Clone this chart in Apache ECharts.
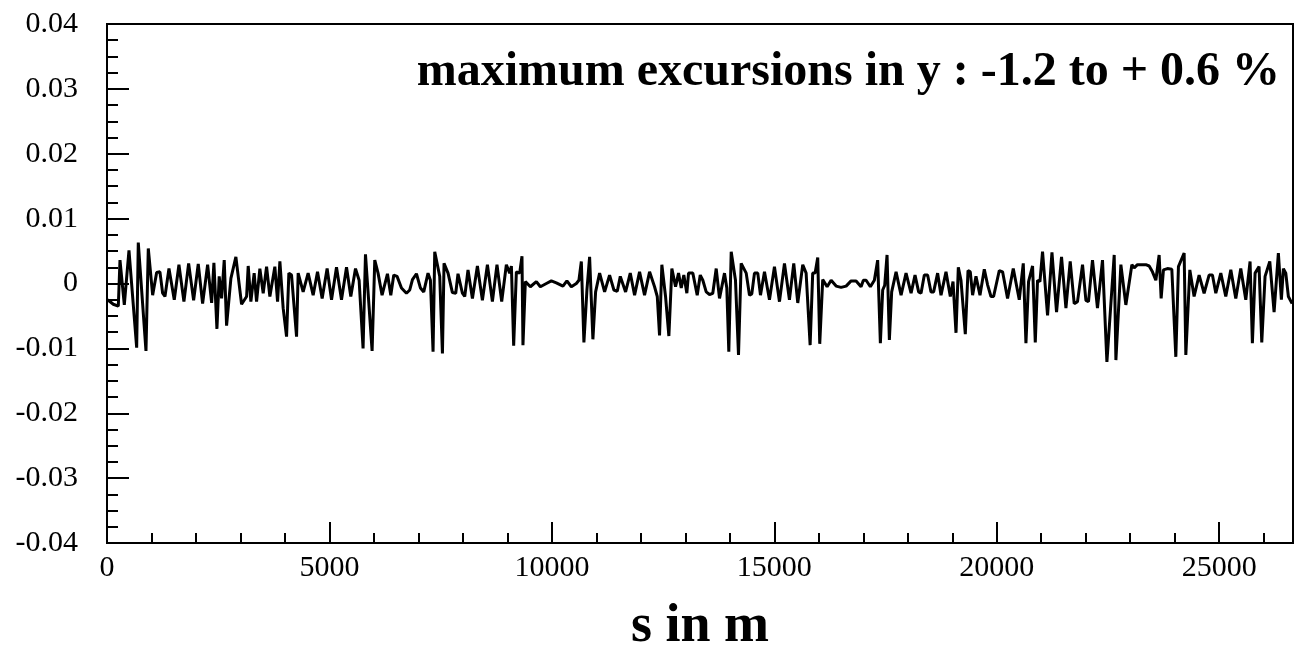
<!DOCTYPE html>
<html>
<head>
<meta charset="utf-8">
<script src="https://cdn.jsdelivr.net/npm/echarts@6/dist/echarts.min.js"></script>
<style>
html,body{margin:0;padding:0;background:#fff;}
#chart{width:1298px;height:656px;}
</style>
</head>
<body>
<div id="chart"></div>
<script>
// Data (s in m, excursion in y)
const sA = [16,141,254,292,389,494,667,703,876,928,1026,1116,1190,1251,1303,1393,1512,1617,1729,1835,1947,2051,2149,2262,2352,2403,2471,2522,2576,2635,2688,2785,2897,3025,3138,3174,3234,3308,3362,3436,3511,3587,3661,3773,3834,3886,3960,4036,4088,4148,4261,4297,4409,4521,4634,4732,4836,4948,5047,5159,5271,5384,5480,5586,5667,5756,5810,5959,6019,6093,6183,6304,6379];
const yA = [-0.0025,-0.0032,-0.0035,0.0036,-0.0033,0.0051,-0.0099,0.0063,-0.0104,0.0054,-0.0018,0.0017,0.0018,-0.0015,-0.0020,0.0023,-0.0025,0.0029,-0.0028,0.0031,-0.0026,0.0030,-0.0031,0.0029,-0.0030,0.0032,-0.0070,0.0011,-0.0023,0.0036,-0.0065,0.0008,0.0041,-0.0032,-0.0020,0.0027,-0.0028,0.0016,-0.0028,0.0023,-0.0015,0.0026,-0.0020,0.0026,-0.0028,0.0034,-0.0038,-0.0082,0.0016,0.0013,-0.0082,0.0016,-0.0013,0.0016,-0.0018,0.0018,-0.0023,0.0023,-0.0025,0.0025,-0.0025,0.0025,-0.0020,0.0023,0.0005,-0.0100,0.0045,-0.0104,0.0036,0.0016,-0.0018,0.0015,-0.0018];

const sB = [6446,6520,6619,6731,6805,6866,6956,7046,7120,7216,7270,7329,7367,7479,7540,7576,7666,7764,7839,7890,7989,8041,8115,8214,8326,8438,8551,8663,8766,8872,8977,9051,9090,9141,9202,9276,9328,9350,9404,9516,9651,9741,9876,9988,10100,10249,10338,10437,10550,10608,10662,10720,10788,10848,10922,10983,11073,11185,11297,11394,11470,11538,11657,11762,11859,11971,12083,12196,12308,12369,12420,12472,12555,12630,12697,12780,12847];
const yB = [0.0013,0.0011,-0.0007,-0.0015,-0.0010,0.0006,0.0015,-0.0007,-0.0013,0.0016,0.0005,-0.0105,0.0049,0.0011,-0.0108,0.0031,0.0016,-0.0014,-0.0015,0.0015,-0.0015,-0.0020,0.0021,-0.0023,0.0027,-0.0026,0.0029,-0.0028,0.0029,-0.0028,0.0029,0.0016,0.0027,-0.0096,0.0018,0.0016,0.0042,-0.0095,0.0003,-0.0005,0.0003,-0.0005,0.0000,0.0004,0.0001,-0.0004,0.0004,-0.0005,0.0000,0.0005,0.0034,-0.0091,-0.0010,0.0041,-0.0086,-0.0013,0.0016,-0.0013,0.0013,-0.0010,-0.0012,0.0011,-0.0013,0.0016,-0.0018,0.0018,-0.0018,0.0018,-0.0005,-0.0020,-0.0080,0.0029,-0.0020,-0.0081,0.0023,-0.0005,0.0016];

const sC = [12908,12966,13034,13072,13168,13267,13335,13393,13469,13543,13617,13694,13768,13880,13932,13977,14031,14127,14195,14255,14368,14442,14494,14554,14628,14689,14779,14891,15003,15116,15228,15340,15437,15527,15639,15715,15751,15805,15863,15917,15976,16021,16088,16187,16277,16389,16501,16614,16726,16838,16950,17002,17063,17159,17249,17323,17384,17436,17481,17534,17586,17638,17737,17849,17961,18074,18163,18244,18298,18372,18446,18522,18581,18671,18747,18859,18956,19017];
const yC = [-0.0007,0.0013,-0.0015,0.0016,0.0016,-0.0018,0.0013,0.0005,-0.0013,-0.0017,-0.0015,0.0023,-0.0023,0.0016,-0.0007,-0.0105,0.0049,0.0005,-0.0110,0.0031,0.0016,-0.0018,-0.0016,0.0016,0.0016,-0.0018,0.0018,-0.0025,0.0026,-0.0028,0.0031,-0.0025,0.0031,-0.0030,0.0029,0.0016,0.0018,-0.0095,0.0016,0.0016,0.0040,-0.0093,0.0006,-0.0005,0.0005,-0.0004,-0.0006,-0.0004,0.0004,0.0004,-0.0005,0.0005,0.0005,-0.0005,0.0005,0.0036,-0.0092,-0.0010,-0.0003,0.0044,-0.0087,-0.0013,0.0018,-0.0018,0.0016,-0.0015,0.0013,-0.0013,-0.0015,0.0013,0.0013,-0.0013,-0.0013,0.0016,-0.0018,0.0018,-0.0020,0.0003];

const sD = [19084,19136,19196,19232,19293,19354,19405,19457,19533,19623,19720,19794,19870,19929,20057,20131,20243,20371,20506,20596,20656,20715,20805,20866,20917,20971,21029,21142,21241,21344,21456,21555,21651,21741,21815,21928,22004,22062,22152,22264,22377,22476,22640,22678,22790,22902,23037,23089,23163,23352,23426,23500,23576,23650,23695,23747,23836,23935,24025,24084,24212,24250,24340,24436,24549,24661,24773,24848,24924,25036,25148,25261,25373,25485,25598,25694,25746,25807,25896,25957,26031,26137,26234,26330,26398,26443,26497,26555,26639];
const yD = [-0.0076,0.0025,0.0005,0.0008,-0.0078,0.0020,0.0018,-0.0018,0.0011,-0.0018,0.0022,-0.0002,-0.0020,-0.0020,0.0020,0.0018,-0.0023,0.0023,-0.0025,0.0031,-0.0092,0.0003,0.0027,-0.0091,0.0005,0.0003,0.0049,-0.0049,0.0048,-0.0044,0.0041,-0.0038,0.0034,-0.0031,-0.0028,0.0029,-0.0026,-0.0028,0.0036,-0.0038,0.0036,-0.0121,0.0044,-0.0118,0.0029,-0.0033,0.0029,0.0024,0.0029,0.0029,0.0027,0.0018,0.0005,0.0044,-0.0023,0.0021,0.0023,0.0022,-0.0113,0.0026,0.0047,-0.0110,0.0021,-0.0020,0.0013,-0.0015,0.0013,0.0013,-0.0015,0.0016,-0.0020,0.0021,-0.0023,0.0023,-0.0025,0.0034,-0.0092,0.0016,0.0026,-0.0091,0.0011,0.0034,-0.0044,0.0047,-0.0025,0.0023,0.0016,-0.0020,-0.0031];

const xMin = 0, xMax = 26659, xMajor = 5000, xMinor = 1000;
const yMin = -0.04, yMax = 0.04, yMajor = 0.01;
const titleText = 'maximum excursions in y : -1.2 to + 0.6 %';
const xName = 's in m';

function pairs(s, y) { const n = Math.min(s.length, y.length); const out = []; for (let i = 0; i < n; i++) out.push([s[i], y[i]]); return out; }
const lineData = [].concat(pairs(sA, yA), pairs(sB, yB), pairs(sC, yC), pairs(sD, yD));

const FONT = "'Liberation Serif', 'DejaVu Serif', serif";
const chart = echarts.init(document.getElementById('chart'), null, {renderer: 'canvas'});
chart.setOption({
  animation: false,
  backgroundColor: '#fff',
  title: {
    text: titleText,
    right: 13,
    top: 44,
    textStyle: {fontFamily: FONT, fontWeight: 'bold', fontSize: 48, color: '#000'}
  },
  grid: {left: 107, right: 5, top: 24, bottom: 113, outerBoundsMode: 'none', containLabel: false,
    show: true, borderColor: '#000', borderWidth: 2, backgroundColor: 'transparent'},
  xAxis: [{
    type: 'value', position: 'bottom', min: xMin, max: xMax, interval: xMajor,
    name: xName, nameLocation: 'middle', nameGap: 57,
    nameTextStyle: {fontFamily: FONT, fontWeight: 'bold', fontSize: 54, color: '#000'},
    axisLine: {show: true, onZero: false, lineStyle: {color: '#000', width: 2}},
    axisTick: {show: true, inside: true, length: 21, lineStyle: {color: '#000', width: 2}},
    axisLabel: {show: true, showMaxLabel: false, margin: 10, color: '#000', fontFamily: FONT, fontSize: 30,
      formatter: v => (v % xMajor === 0 ? String(v) : '')},
    splitLine: {show: false}
  }, {
    type: 'value', position: 'bottom', min: xMin, max: xMax, interval: xMinor,
    axisLine: {show: false, onZero: false},
    axisTick: {show: true, inside: true, length: 10, lineStyle: {color: '#000', width: 2}},
    axisLabel: {show: false},
    splitLine: {show: false}
  }],
  yAxis: {
    type: 'value', min: yMin, max: yMax, interval: yMajor,
    axisLine: {show: true, onZero: false, lineStyle: {color: '#000', width: 2}},
    axisTick: {show: true, inside: true, length: 22, lineStyle: {color: '#000', width: 2}},
    minorTick: {show: true, splitNumber: 4, length: 11, lineStyle: {color: '#000', width: 2}},
    axisLabel: {margin: 29, color: '#000', fontFamily: FONT, fontSize: 30,
      formatter: v => { const r = Math.round(v * 100) / 100; return r === 0 ? '0' : String(r); }},
    splitLine: {show: false}
  },
  series: [{
    type: 'line', xAxisIndex: 0, data: lineData, showSymbol: false, symbol: 'none',
    lineStyle: {color: '#000', width: 3}, silent: true
  }]
});
</script>
</body>
</html>
